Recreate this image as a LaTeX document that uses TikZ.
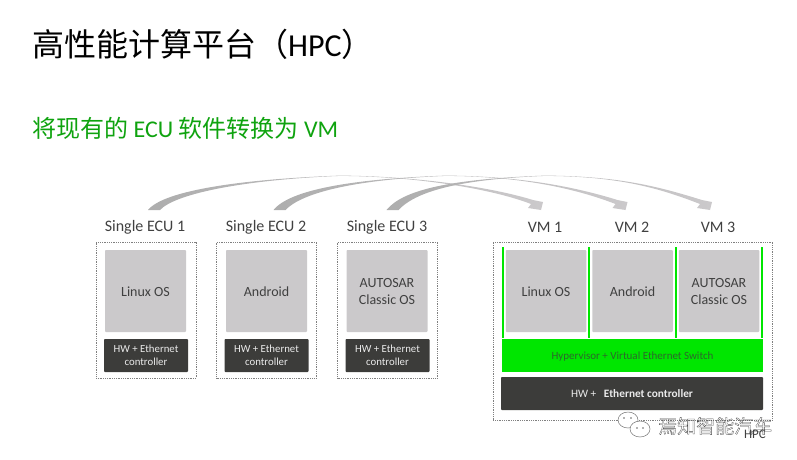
\documentclass[tikz,border=0pt]{standalone}
\usepackage{fontspec}
\setmainfont{Carlito}
\newfontfamily\cjk{Noto Sans CJK SC}
\usetikzlibrary{calc}
\definecolor{osgray}{HTML}{CBC9CB}
\definecolor{hwdark}{HTML}{3C3C3A}
\definecolor{vmgreen}{HTML}{00E600}
\definecolor{headgreen}{HTML}{0FA30F}
\definecolor{labelgray}{HTML}{404040}
\tikzset{
  ecubox/.style={
    draw=gray,
    densely dotted,
    line width=0.8pt,
    inner sep=0pt
  },
  osbox/.style={
    fill=osgray,
    rounded corners=0.8pt,
    minimum width=81pt,
    minimum height=82pt,
    inner sep=0pt,
    align=center,
    text=labelgray,
    execute at begin node={\rule{0pt}{11pt}},
    font=\fontsize{14}{17}\selectfont
  },
  hwbox/.style={
    fill=hwdark,
    rounded corners=0.8pt,
    minimum width=84pt,
    minimum height=33pt,
    inner sep=0pt,
    align=center,
    text=white!92!black,
    font=\fontsize{10.8}{13}\selectfont
  },
  toplabel/.style={
    inner sep=0pt,
    text=labelgray,
    font=\fontsize{16}{19}\selectfont
  },
  greenpost/.style={
    draw=vmgreen,
    line width=2.2pt
  },
  swooshpath/.style={
    left color=black!32,
    right color=osgray,
    draw=none
  },
  chatbubble/.style={
    draw=black!55,
    fill=white,
    line width=0.5pt
  }
}
% tapered arrow: #1 foot, #2 tip
\newcommand{\swoosh}[2]{
  \path[swooshpath] ($(#1)+(-6,0)$)
    .. controls ($(#1)+(10,-20)$) and ($(#1)!0.48!(#2)+(-95,-31)$) .. ($(#1)!0.48!(#2)+(0,-34.4)$)
    .. controls ($(#1)!0.48!(#2)+(75,-34)$) and ($(#2)+(-50,-23)$) .. ($(#2)+(-8,-10)$)
    -- ($(#2)+(2,-8)$) -- (#2) -- ($(#2)+(-13,-2)$) -- ($(#2)+(-10,-6)$)
    .. controls ($(#2)+(-50,-21.5)$) and ($(#1)!0.48!(#2)+(75,-33.8)$) .. ($(#1)!0.48!(#2)+(0,-34.1)$)
    .. controls ($(#1)!0.48!(#2)+(-92,-30.5)$) and ($(#1)+(22,-17)$) .. ($(#1)+(6,0)$)
    -- cycle;
}
% text lines set a little lower in their box
\newcommand{\lowline}[2]{\raisebox{-#1}{#2}}
\begin{document}
\begin{tikzpicture}[x=1pt,y=-1pt]
    \useasboundingbox (0,0) rectangle (797,459);

    \node [anchor=west, inner sep=0pt, font=\fontsize{32}{36}\selectfont] (title) at (32, 44) {{\cjk 高性能计算平台（}HPC{\cjk ）}};
    \node [anchor=west, inner sep=0pt, text=headgreen, font=\fontsize{24}{28}\selectfont] (subtitle) at (32, 128) {{\cjk 将现有的} ECU {\cjk 软件转换为} VM};

    % single ECUs
    \node [ecubox, minimum width=100pt, minimum height=136pt] (ecuA) at (146, 310) {};
    \node [ecubox, minimum width=100pt, minimum height=136pt] (ecuB) at (266.5, 310) {};
    \node [ecubox, minimum width=100pt, minimum height=136pt] (ecuC) at (387.5, 310) {};
    \node [toplabel] (ecuAlabel) at (145, 227) {Single ECU 1};
    \node [toplabel] (ecuBlabel) at (266, 227) {Single ECU 2};
    \node [toplabel] (ecuClabel) at (387, 227) {Single ECU 3};
    \node [osbox] (osA) at (145.5, 291) {Linux OS};
    \node [osbox] (osB) at (266.5, 291) {Android};
    \node [osbox] (osC) at (387, 291) {\lowline{2pt}{AUTOSAR}\\\lowline{2pt}{Classic OS}};
    \node [hwbox] (hwA) at (146, 355.5) {\lowline{1pt}{HW + Ethernet}\\\lowline{1pt}{controller}};
    \node [hwbox] (hwB) at (266.5, 355.5) {\lowline{1pt}{HW + Ethernet}\\\lowline{1pt}{controller}};
    \node [hwbox] (hwC) at (387.5, 355.5) {\lowline{1pt}{HW + Ethernet}\\\lowline{1pt}{controller}};

    % HPC side
    \node [ecubox, minimum width=279.5pt, minimum height=178pt] (hpc) at (633, 331) {};
    \node [toplabel] (vmAlabel) at (545, 227) {VM 1};
    \node [toplabel] (vmBlabel) at (632, 227) {VM 2};
    \node [toplabel] (vmClabel) at (718, 227) {VM 3};
    \node [fill=vmgreen, minimum width=261pt, minimum height=33pt, inner sep=0pt, align=center, execute at begin node={\rule{0pt}{11.5pt}}, text=hwdark!75!vmgreen, font=\fontsize{11}{13}\selectfont] (hyper) at (632.5, 355) {Hypervisor + Virtual Ethernet Switch};
    \draw [greenpost] (503.3, 247) -- (hyper.north -| 503.3, 0);
    \draw [greenpost] (589, 247) -- (hyper.north -| 589, 0);
    \draw [greenpost] (676, 247) -- (hyper.north -| 676, 0);
    \draw [greenpost] (761.7, 247) -- (hyper.north -| 761.7, 0);
    \node [osbox, minimum width=80.5pt] (vmA) at (546, 291) {Linux OS};
    \node [osbox, minimum width=80.5pt] (vmB) at (632.5, 291) {Android};
    \node [osbox, minimum width=80.5pt] (vmC) at (719, 291) {\lowline{2pt}{AUTOSAR}\\\lowline{2pt}{Classic OS}};
    \node [hwbox, minimum width=262pt, font=\fontsize{11.3}{13}\selectfont] (hpchw) at (632, 393.5) {\lowline{0.5pt}{HW + \ \ \textbf{Ethernet controller}}};

    % arrows
    \coordinate (footA) at (154, 210);
    \coordinate (footB) at (279.5, 210);
    \coordinate (footC) at (392.5, 210);
    \coordinate (tipA) at (541, 210);
    \coordinate (tipB) at (625.5, 210);
    \coordinate (tipC) at (710, 210);
    \swoosh{footA}{tipA}
    \swoosh{footB}{tipB}
    \swoosh{footC}{tipC}

    % watermark
    \path [chatbubble] (628, 420) ellipse [x radius=10, y radius=8];
    \path [chatbubble] (640, 429) ellipse [x radius=10, y radius=8];
    \fill [black!60] (624, 418) circle (0.8) (631, 418) circle (0.8) (637, 428) circle (0.8) (643, 428) circle (0.8);
    \node [anchor=west, inner sep=0pt, text=black!70, font=\fontsize{19}{22}\selectfont] (mark) at (658, 426) {\special{pdf:code 1 Tr 0.3 w}{\cjk 焉知智能汽车}\special{pdf:code 0 Tr}};
    \node [inner sep=0pt, text=labelgray, font=\fontsize{13}{15}\selectfont] (hpclabel) at (755, 434.5) {HPC};
  \end{tikzpicture}
\end{document}
